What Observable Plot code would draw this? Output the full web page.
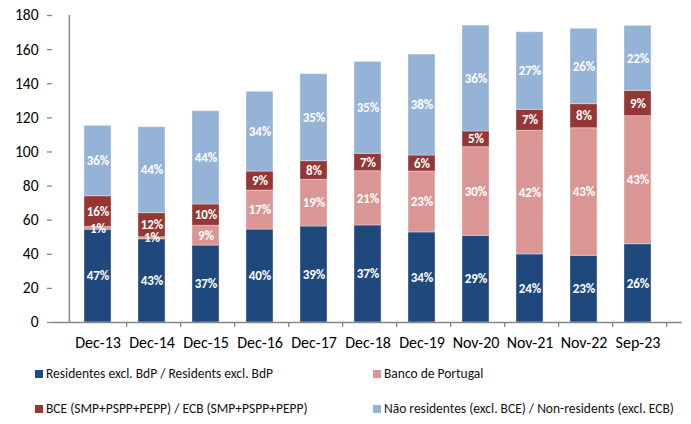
<!DOCTYPE html>
<html>
<head>
<meta charset="utf-8">
<script src="https://cdn.jsdelivr.net/npm/d3@7"></script>
<script src="https://cdn.jsdelivr.net/npm/@observablehq/plot@0.6"></script>
<style>
  html, body { margin: 0; padding: 0; background: #fff; }
  body { width: 691px; height: 424px; overflow: hidden; font-family: Carlito, Calibri, "Open Sans", sans-serif; }
  #legend { position: relative; height: 72px; font-size: 13.5px; color: #111; }
  .item { position: absolute; display: flex; align-items: center; line-height: 16px; white-space: nowrap; }
  .sw { width: 8px; height: 8px; margin-right: 3px; }
</style>
</head>
<body>
<div id="chart"></div>
<div id="legend"></div>
<script>
const categories = ["Dec-13","Dec-14","Dec-15","Dec-16","Dec-17","Dec-18","Dec-19","Nov-20","Nov-21","Nov-22","Sep-23"];
const seriesNames = [
  "Residentes excl. BdP / Residents excl. BdP",
  "Banco de Portugal",
  "BCE (SMP+PSPP+PEPP) / ECB (SMP+PSPP+PEPP)",
  "Não residentes (excl. BCE) / Non-residents (excl. ECB)"
];
const seriesColors = ["#1F497D", "#DA9694", "#953735", "#95B3D7"];

const residents = [54.4, 48.8, 45.1, 54.5, 56.3, 56.9, 52.8, 50.8, 39.9, 39.1, 45.9];
const bdp       = [1.6, 1.2, 11.6, 22.9, 27.4, 31.8, 35.7, 52.0, 72.5, 74.8, 75.1];
const ecb       = [18.0, 14.1, 12.5, 11.1, 10.9, 10.2, 9.4, 9.2, 12.3, 14.1, 14.8];
const nonres    = [41.3, 50.4, 54.7, 46.8, 51.0, 53.9, 59.2, 62.1, 45.5, 44.2, 38.1];

const residentsPct = [47, 43, 37, 40, 39, 37, 34, 29, 24, 23, 26];
const bdpPct       = [1, 1, 9, 17, 19, 21, 23, 30, 42, 43, 43];
const ecbPct       = [16, 12, 10, 9, 8, 7, 6, 5, 7, 8, 9];
const nonresPct    = [36, 44, 44, 34, 35, 35, 38, 36, 27, 26, 22];

const yTicks = [0, 20, 40, 60, 80, 100, 120, 140, 160, 180];

const values = [residents, bdp, ecb, nonres];
const pcts = [residentsPct, bdpPct, ecbPct, nonresPct];
const data = [];
values.forEach((arr, s) => arr.forEach((v, i) => data.push({
  cat: categories[i], series: seriesNames[s], value: v, pct: pcts[s][i] + "%"
})));

const W = 691, H = 352, mL = 52, mR = 9;
const step = (W - mL - mR) / categories.length;
const axisColor = "#868686";
const font = "Carlito, Calibri, 'Open Sans', sans-serif";

const chart = Plot.plot({
  width: W, height: H,
  marginTop: 15, marginBottom: 30, marginLeft: mL, marginRight: mR,
  style: { fontFamily: font, background: "#fff", color: "#000" },
  x: { domain: categories, padding: 0.5, axis: null },
  y: { domain: [0, 180], axis: null },
  color: { domain: seriesNames, range: seriesColors },
  marks: [
    Plot.barY(data, { x: "cat", y: "value", fill: "series", order: seriesNames,
      stroke: "#ffffff", strokeOpacity: 0.35, strokeWidth: 1 }),
    Plot.text(data, Plot.stackY({ x: "cat", y: "value", z: "series", order: seriesNames, text: "pct",
      fill: "white", fontWeight: "bold", fontSize: 13, fontFamily: font })),
    Plot.ruleY([0], { stroke: axisColor, strokeWidth: 1.5 }),
    Plot.ruleX([categories[0]], { y1: 0, y2: 180, dx: -step / 2, stroke: axisColor, strokeWidth: 1.5 }),
    Plot.axisY({ ticks: yTicks, tickSize: 5, tickPadding: 9, stroke: axisColor, strokeWidth: 1.3, fontSize: 15.5, fill: "#000", label: null }),
    Plot.axisX({ tickSize: 5, tickFormat: () => "", dx: step / 2, stroke: axisColor, strokeWidth: 1.3, label: null }),
    Plot.axisX({ tickSize: 0, tickPadding: 14.5, fontSize: 16, fill: "#000", label: null })
  ]
});
document.getElementById("chart").appendChild(chart);

const legend = document.getElementById("legend");
const pos = [[35, 14], [373, 14], [35, 49], [373, 49]];
seriesNames.forEach((name, i) => {
  const d = document.createElement("div");
  d.className = "item";
  d.style.left = pos[i][0] + "px";
  d.style.top = pos[i][1] + "px";
  d.innerHTML = `<span class="sw" style="background:${seriesColors[i]}"></span><span>${name}</span>`;
  legend.appendChild(d);
});
</script>
</body>
</html>
